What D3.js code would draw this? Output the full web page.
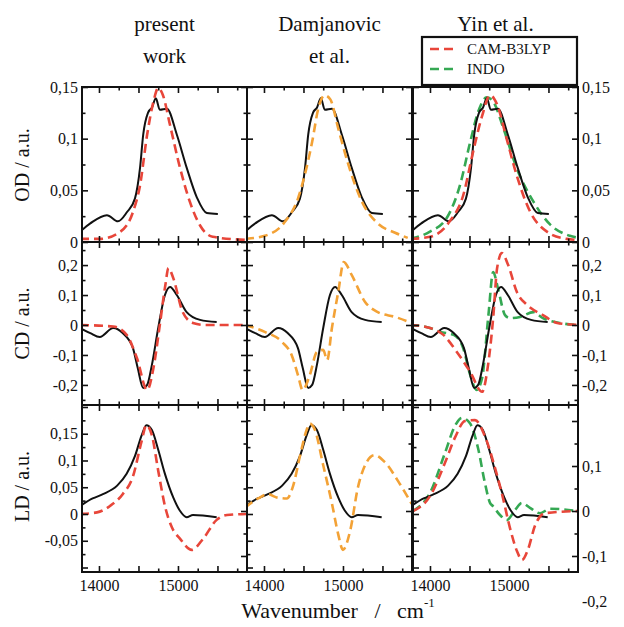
<!DOCTYPE html>
<html><head><meta charset="utf-8">
<script src="https://cdnjs.cloudflare.com/ajax/libs/d3/7.8.5/d3.min.js"></script>
<style>
body{margin:0;background:#fff}
svg text{font-family:"Liberation Serif","DejaVu Serif",serif !important}
</style>
</head><body>
<svg id="chart" width="624" height="627"></svg>
<script>
// ---------------- DATA ----------------
const columnTitles = [["present","work"],["Damjanovic","et al."],["Yin et al."]];
const rowLabels = ["OD / a.u.","CD / a.u.","LD / a.u."];
const legendLabels = ["CAM-B3LYP","INDO"];
const xTickLabels = [14000, 15000];
const odTicks = [0, 0.05, 0.1, 0.15];
const cdTicks = [-0.2, -0.1, 0, 0.1, 0.2];
const ldTicksLeft = [-0.05, 0, 0.05, 0.1, 0.15];
const ldTicksRight = [-0.2, -0.1, 0, 0.1];

// experimental (black)
const expOD = [[13760,0.010],[13890,0.018],[14100,0.026],[14240,0.020],[14355,0.029],[14455,0.042],[14520,0.072],[14560,0.104],[14620,0.125],[14670,0.130],[14720,0.139],[14770,0.128],[14860,0.129],[14985,0.104],[15110,0.072],[15240,0.043],[15365,0.028],[15505,0.027]];
const expCD = [[13760,-0.010],[13890,-0.027],[14010,-0.040],[14180,-0.010],[14300,-0.027],[14430,-0.077],[14490,-0.143],[14560,-0.210],[14610,-0.200],[14670,-0.133],[14750,-0.010],[14835,0.100],[14900,0.127],[14985,0.100],[15110,0.043],[15280,0.017],[15490,0.010]];
const expLD = [[13760,0.015],[13920,0.029],[14050,0.037],[14230,0.053],[14350,0.075],[14455,0.108],[14540,0.147],[14600,0.166],[14670,0.157],[14750,0.120],[14835,0.075],[14940,0.031],[15025,0.006],[15110,-0.006],[15190,-0.002],[15490,-0.006]];

// present work (red)
const presentOD = [[13760,0.003],[14010,0.003],[14270,0.010],[14430,0.029],[14520,0.055],[14610,0.104],[14690,0.136],[14750,0.149],[14810,0.142],[14900,0.113],[15025,0.072],[15150,0.039],[15280,0.016],[15440,0.005],[15870,0.002]];
const presentCD = [[13760,0],[14180,-0.005],[14350,-0.033],[14480,-0.110],[14610,-0.217],[14690,-0.143],[14770,0],[14840,0.133],[14880,0.190],[14940,0.157],[15060,0.043],[15190,0.007],[15350,0],[15870,0]];
const presentLD = [[13760,0],[13975,0.003],[14140,0.015],[14300,0.037],[14430,0.070],[14540,0.136],[14600,0.166],[14670,0.147],[14750,0.081],[14835,0.015],[14920,-0.024],[15025,-0.046],[15175,-0.067],[15320,-0.046],[15490,-0.011],[15620,-0.002],[15870,0]];

// Damjanovic et al. (orange)
const damOD = [[13760,0.003],[14010,0.006],[14270,0.020],[14430,0.042],[14520,0.066],[14610,0.097],[14690,0.130],[14770,0.142],[14840,0.138],[14940,0.110],[15060,0.077],[15240,0.039],[15440,0.018],[15660,0.009],[15820,0.004]];
const damCD = [[13760,0],[14010,-0.023],[14230,-0.057],[14350,-0.100],[14430,-0.167],[14490,-0.217],[14580,-0.167],[14670,-0.090],[14750,-0.083],[14800,-0.117],[14860,-0.010],[14940,0.110],[15010,0.210],[15110,0.167],[15280,0.077],[15440,0.043],[15660,0.027],[15870,0.007]];
const damLD = [[13760,0.012],[13925,0.029],[14050,0.037],[14160,0.031],[14290,0.029],[14370,0.053],[14455,0.108],[14540,0.157],[14580,0.169],[14645,0.157],[14750,0.091],[14860,0.020],[14940,-0.038],[15000,-0.067],[15090,-0.032],[15190,0.050],[15300,0.097],[15400,0.110],[15530,0.097],[15700,0.061],[15870,0.019]];

// Yin et al. CAM-B3LYP (red) and INDO (green)
const yinCamOD = [[13750,0.003],[14000,0.005],[14250,0.020],[14420,0.045],[14545,0.087],[14660,0.122],[14760,0.142],[14850,0.133],[14970,0.100],[15100,0.064],[15270,0.029],[15480,0.010],[15730,0.003],[15880,0.002]];
const yinIndoOD = [[13750,0.003],[14000,0.010],[14210,0.023],[14380,0.055],[14510,0.097],[14610,0.126],[14720,0.140],[14800,0.136],[14930,0.110],[15100,0.071],[15310,0.039],[15520,0.017],[15770,0.006],[15880,0.004]];
const yinCamCD = [[13750,0],[14000,-0.010],[14170,-0.033],[14340,-0.090],[14510,-0.157],[14660,-0.223],[14730,-0.143],[14800,0.023],[14850,0.190],[14910,0.240],[14990,0.200],[15100,0.110],[15230,0.067],[15430,0.033],[15610,0.007],[15880,0]];
const yinIndoCD = [[13750,0],[14000,-0.010],[14130,-0.023],[14300,-0.033],[14420,-0.077],[14510,-0.167],[14590,-0.217],[14660,-0.177],[14740,0.033],[14800,0.177],[14860,0.123],[14950,0.033],[15010,0.023],[15140,0.027],[15310,0.043],[15430,0.023],[15640,0.007],[15880,0]];
const yinCamLD = [[13785,0],[14000,0.033],[14190,0.107],[14316,0.163],[14443,0.200],[14570,0.202],[14696,0.166],[14823,0.096],[14924,0.029],[15013,-0.038],[15101,-0.089],[15165,-0.109],[15240,-0.086],[15329,-0.033],[15456,-0.005],[15874,0]];
const yinIndoLD = [[13785,0],[14000,0.040],[14190,0.129],[14316,0.189],[14405,0.207],[14506,0.195],[14608,0.140],[14696,0.062],[14760,0.018],[14797,0.011],[14886,-0.009],[14975,-0.020],[15076,0.002],[15165,0.018],[15266,0.007],[15393,-0.005],[15519,0.005],[15874,0]];

// ---------------- LAYOUT ----------------
const svg = d3.select("#chart");
const colLeft = [82, 247, 413];
const panelW = 165;
const rows = [{top:87,bottom:242},{top:242,bottom:405},{top:405,bottom:572}];
const colors = {red:"#e8463a", orange:"#f3a236", green:"#35a853", black:"#111"};
const xDomain = [13785, 15874];

const yOD = d3.scaleLinear().domain([0,0.15]).range([rows[0].bottom, rows[0].top]);
const yCD = d3.scaleLinear().domain([-0.267,0.277]).range([rows[1].bottom, rows[1].top]);
const yLDl = d3.scaleLinear().domain([-0.1084,0.2037]).range([rows[2].bottom, rows[2].top]);
const yLDr = d3.scaleLinear().domain([-0.1356,0.2356]).range([rows[2].bottom, rows[2].top]);

const fmt = d => d===0 ? "0" : String(+d.toFixed(3)).replace(".",",");
const FONT = "Liberation Serif, DejaVu Serif, serif";

const panels = [
  {r:0,c:0, series:[{d:expOD,y:yOD,col:"black"},{d:presentOD,y:yOD,col:"red",dash:true}]},
  {r:0,c:1, series:[{d:expOD,y:yOD,col:"black"},{d:damOD,y:yOD,col:"orange",dash:true}]},
  {r:0,c:2, series:[{d:yinIndoOD,y:yOD,col:"green",dash:true},{d:expOD,y:yOD,col:"black"},{d:yinCamOD,y:yOD,col:"red",dash:true}]},
  {r:1,c:0, series:[{d:expCD,y:yCD,col:"black"},{d:presentCD,y:yCD,col:"red",dash:true}]},
  {r:1,c:1, series:[{d:expCD,y:yCD,col:"black"},{d:damCD,y:yCD,col:"orange",dash:true}]},
  {r:1,c:2, series:[{d:yinIndoCD,y:yCD,col:"green",dash:true},{d:expCD,y:yCD,col:"black"},{d:yinCamCD,y:yCD,col:"red",dash:true}]},
  {r:2,c:0, series:[{d:expLD,y:yLDl,col:"black"},{d:presentLD,y:yLDl,col:"red",dash:true}]},
  {r:2,c:1, series:[{d:expLD,y:yLDl,col:"black"},{d:damLD,y:yLDl,col:"orange",dash:true}]},
  {r:2,c:2, series:[{d:yinIndoLD,y:yLDr,col:"green",dash:true},{d:expLD,y:yLDl,col:"black"},{d:yinCamLD,y:yLDr,col:"red",dash:true}]}
];
const rowScales = [[yOD,yOD,odTicks,odTicks,0.025,0.025,0.05,0.05],[yCD,yCD,cdTicks,cdTicks,0.05,0.05,0.1,0.1],[yLDl,yLDr,ldTicksLeft,ldTicksRight,0.025,0.05,0.05,0.1]];

const defs = svg.append("defs");
const stepVals = (sc, step) => { const d=sc.domain(), out=[]; for(let k=Math.ceil(d[0]/step-1e-9); k*step<=d[1]+1e-9; k++) out.push(+(k*step).toFixed(4)); return out; };

panels.forEach((p,i) => {
  const x0 = colLeft[p.c], x1 = x0 + panelW;
  const row = rows[p.r];
  const x = d3.scaleLinear().domain(xDomain).range([x0,x1]);
  defs.append("clipPath").attr("id","clip"+i).append("rect")
    .attr("x",x0).attr("y",row.top).attr("width",panelW).attr("height",row.bottom-row.top);
  const g = svg.append("g").attr("clip-path","url(#clip"+i+")");
  p.series.forEach(s => {
    const line = d3.line().x(d=>x(d[0])).y(d=>s.y(d[1])).curve(d3.curveMonotoneX);
    g.append("path").datum(s.d).attr("d",line).attr("fill","none")
      .attr("stroke",colors[s.col])
      .attr("stroke-width", s.dash ? 2.6 : 2)
      .attr("stroke-dasharray", s.dash ? "9,5" : null)
      .attr("stroke-linejoin","round");
  });

  const [ysL, ysR, tL, tR, minL, minR, majL, majR] = rowScales[p.r];
  const xMajor = d3.range(14000, 15900, 500);
  const xMinor = d3.range(13750, 15900, 500).filter(v=>v>=xDomain[0] && v<=xDomain[1]);
  const axG = svg.append("g");
  const addAxis = (axis, tx, ty) => axG.append("g").attr("transform",`translate(${tx},${ty})`).call(axis);
  addAxis(d3.axisBottom(x).tickValues(xMajor).tickSize(-6).tickFormat(""),0,row.bottom);
  addAxis(d3.axisBottom(x).tickValues(xMinor).tickSize(-3.5).tickFormat(""),0,row.bottom);
  addAxis(d3.axisTop(x).tickValues(xMajor).tickSize(-6).tickFormat(""),0,row.top);
  addAxis(d3.axisTop(x).tickValues(xMinor).tickSize(-3.5).tickFormat(""),0,row.top);
  const majLv = stepVals(ysL, majL), majRv = stepVals(ysR, majR);
  const minLv = stepVals(ysL, minL).filter(v=>!majLv.some(m=>Math.abs(m-v)<1e-6));
  const minRv = stepVals(ysR, minR).filter(v=>!majRv.some(m=>Math.abs(m-v)<1e-6));
  addAxis(d3.axisLeft(ysL).tickValues(majLv).tickSize(-6).tickFormat(""),x0,0);
  addAxis(d3.axisLeft(ysL).tickValues(minLv).tickSize(-3.5).tickFormat(""),x0,0);
  addAxis(d3.axisRight(ysR).tickValues(majRv).tickSize(-6).tickFormat(""),x1,0);
  addAxis(d3.axisRight(ysR).tickValues(minRv).tickSize(-3.5).tickFormat(""),x1,0);
  axG.selectAll(".domain").remove();
  axG.selectAll("line").attr("stroke","#111").attr("stroke-width",1.6);

  svg.append("rect").attr("x",x0).attr("y",row.top).attr("width",panelW).attr("height",row.bottom-row.top)
    .attr("fill","none").attr("stroke","#111").attr("stroke-width",2);

  const styleText = sel => sel.selectAll("text").attr("font-size",16).attr("font-family",FONT).attr("fill","#111");
  if (p.c===0) {
    svg.append("g").attr("transform",`translate(${x0},0)`)
      .call(d3.axisLeft(ysL).tickValues(tL).tickSize(0).tickPadding(4).tickFormat(fmt))
      .call(g=>g.select(".domain").remove()).call(styleText);
  }
  if (p.c===2) {
    svg.append("g").attr("transform",`translate(${x1},0)`)
      .call(d3.axisRight(ysR).tickValues(tR).tickSize(0).tickPadding(4).tickFormat(fmt))
      .call(g=>g.select(".domain").remove()).call(styleText);
  }
  if (p.r===2) {
    svg.append("g").attr("transform",`translate(0,${row.bottom})`)
      .call(d3.axisBottom(x).tickValues(xTickLabels).tickSize(0).tickPadding(8).tickFormat(d3.format("d")))
      .call(g=>g.select(".domain").remove()).call(styleText);
  }
});

// column titles
columnTitles.forEach((lines,c)=>{
  lines.forEach((t,k)=>{
    svg.append("text").attr("x",colLeft[c]+panelW/2).attr("y",31+k*32)
      .attr("text-anchor","middle").attr("font-family",FONT).attr("font-size",21).attr("fill","#111").text(t);
  });
});

// row labels
rowLabels.forEach((t,r)=>{
  const cy = r===0 ? 165 : (rows[r].top+rows[r].bottom)/2 + (r===2?-2:0);
  svg.append("text").attr("transform",`translate(29,${cy}) rotate(-90)`)
    .attr("text-anchor","middle").attr("font-family",FONT).attr("font-size",20).attr("fill","#111").text(t);
});

// x axis title
const xt = svg.append("text").attr("x",338).attr("y",618).attr("text-anchor","middle")
  .attr("font-family",FONT).attr("font-size",22).attr("fill","#111").style("white-space","pre");
xt.append("tspan").text("Wavenumber   /   cm");
xt.append("tspan").attr("dy",-11).attr("font-size",13).text("-1");

// legend
const lg = svg.append("g");
lg.append("rect").attr("x",422).attr("y",37).attr("width",155).attr("height",48)
  .attr("fill","#fff").attr("stroke","#111").attr("stroke-width",2.2);
[["red",0],["green",1]].forEach(([c,k])=>{
  const yy = 49 + k*20;
  lg.append("line").attr("x1",430).attr("x2",458).attr("y1",yy).attr("y2",yy)
    .attr("stroke",colors[c]).attr("stroke-width",2.6).attr("stroke-dasharray","9,5");
  lg.append("text").attr("x",467).attr("y",yy+5).attr("font-family",FONT).attr("font-size",15).attr("fill","#111").text(legendLabels[k]);
});
</script>
</body></html>
